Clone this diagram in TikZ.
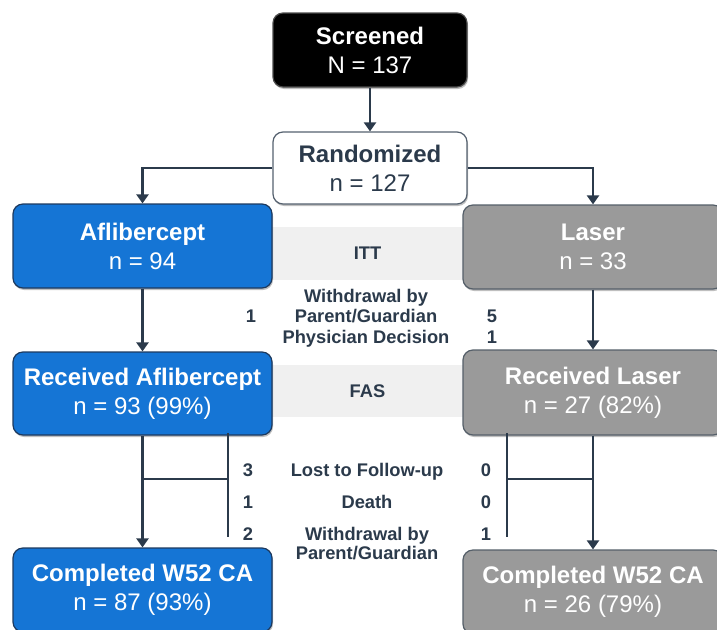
\documentclass[tikz,border=0pt]{standalone}
\usepackage{fontspec}
\setmainfont{Liberation Sans}
\usetikzlibrary{arrows.meta,shadows}
\definecolor{ablue}{HTML}{1575D5}
\definecolor{abluedk}{HTML}{1D3A5F}
\definecolor{lgrey}{HTML}{9A9A9A}
\definecolor{lgreydk}{HTML}{555F69}
\definecolor{slate}{HTML}{2B3A4B}
\definecolor{bandc}{HTML}{F0F0F0}
\begin{document}
\begin{tikzpicture}[x=1pt,y=-1pt,
  box/.style={rounded corners=10pt, align=center, inner sep=0pt,
    font=\fontsize{24}{29}\selectfont, line width=1.2pt,
    drop shadow={shadow xshift=1pt,shadow yshift=-2pt,opacity=0.25,fill=black}},
  bluebox/.style={box, fill=ablue, draw=abluedk, text=white},
  greybox/.style={box, fill=lgrey, draw=lgreydk, text=white},
  bandbox/.style={fill=bandc, inner sep=0pt, text=slate,
    font=\fontsize{18.3}{20.5}\selectfont\bfseries, minimum width=191pt},
  lbl/.style={text=slate, font=\fontsize{18.3}{20.5}\selectfont\bfseries,
    anchor=base, inner sep=0pt},
  conn/.style={draw=slate, line width=2.5pt},
  arr/.style={conn, -{Triangle[width=12pt,length=9pt]}}]
\useasboundingbox (0,0) rectangle (717,629);
\clip (0,0) rectangle (717,629);

% bands
\node[bandbox, minimum height=53pt] (itt) at (367.5,253.5) {ITT};
\node[bandbox, minimum height=52pt] (fas) at (367.5,391) {FAS};

% boxes
\node[box, fill=black, draw=black!70, text=white, minimum width=194pt, minimum height=74pt]
  (scr) at (370,50) {\textbf{Screened}\\N = 137};
\node[box, fill=white, draw=slate!80, text=slate, minimum width=194pt, minimum height=72pt]
  (rand) at (370,168) {\textbf{Randomized}\\n = 127};
\node[bluebox, minimum width=259pt, minimum height=84pt]
  (afl) at (142.5,246) {\textbf{Aflibercept}\\n = 94};
\node[greybox, minimum width=260pt, minimum height=84pt]
  (las) at (593,247) {\textbf{Laser}\\n = 33};
\node[bluebox, minimum width=259pt, minimum height=83pt]
  (recA) at (142.5,393.5) {\textbf{Received Aflibercept}\\n = 93 (99\%)};
\node[greybox, minimum width=260pt, minimum height=85pt]
  (recL) at (593,392.5) {\textbf{Received Laser}\\n = 27 (82\%)};
\node[bluebox, minimum width=259pt, minimum height=84pt]
  (compA) at (142.5,590) {\textbf{Completed W52 CA}\\n = 87 (93\%)};
\node[greybox, minimum width=260pt, minimum height=84pt]
  (compL) at (593,592) {\textbf{Completed W52 CA}\\n = 26 (79\%)};

% labels, first stage
\node[lbl] (wd1) at (366,302) {Withdrawal by};
\node[lbl] (pg1) at (366,322) {Parent/Guardian};
\node[lbl] (pd1) at (366,343) {Physician Decision};
\node[lbl] (n1a) at (251,322) {1};
\node[lbl] (n1b) at (492,322) {5};
\node[lbl] (n1c) at (492,343) {1};

% labels, second stage
\node[lbl] (lf) at (367,476) {Lost to Follow-up};
\node[lbl] (de) at (367,508) {Death};
\node[lbl] (wd2) at (367,540) {Withdrawal by};
\node[lbl] (pg2) at (367,559) {Parent/Guardian};
\node[lbl] (n2a) at (248,476) {3};
\node[lbl] (n2b) at (248,508) {1};
\node[lbl] (n2c) at (248,540) {2};
\node[lbl] (n2d) at (486,476) {0};
\node[lbl] (n2e) at (486,508) {0};
\node[lbl] (n2f) at (486,540) {1};

% connectors
\draw[arr] (scr) -- (rand);
\draw[arr] (rand.west) -| (afl.north);
\draw[arr] (rand.east) -| (las.north);
\draw[arr] (afl) -- (recA);
\draw[arr] (las) -- (recL);
\draw[arr] (recA) -- (compA);
\draw[arr] (recL) -- (compL);

\coordinate (lbt) at (228,433);
\coordinate (lbb) at (228,537);
\coordinate (lbm) at (228,479);
\draw[conn] (lbt) -- (lbb);
\draw[conn] (lbm) -- (lbm -| recA.south);

\coordinate (rbt) at (507,433);
\coordinate (rbb) at (507,537);
\coordinate (rbm) at (507,479);
\draw[conn] (rbt) -- (rbb);
\draw[conn] (rbm) -- (rbm -| recL.south);
\end{tikzpicture}
\end{document}
